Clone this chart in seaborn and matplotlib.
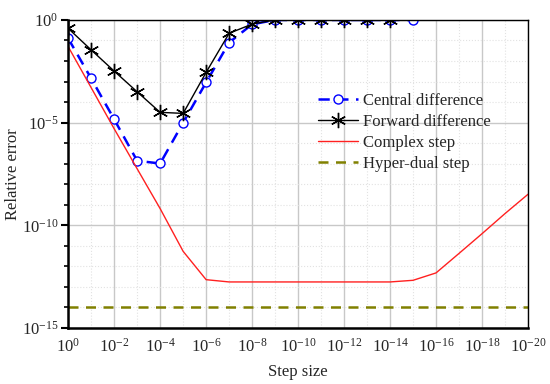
import numpy as np
import matplotlib
matplotlib.use("Agg")
import matplotlib.pyplot as plt
import matplotlib.ticker as mticker
import seaborn as sns

# step sizes (10^0 ... 10^-20)
step = [1e0, 1e-1, 1e-2, 1e-3, 1e-4, 1e-5, 1e-6, 1e-7, 1e-8, 1e-9, 1e-10,
        1e-11, 1e-12, 1e-13, 1e-14, 1e-15, 1e-16, 1e-17, 1e-18, 1e-19, 1e-20]

# log10 of relative error
central_log = [-0.9, -2.85, -4.84, -6.86, -6.99, -5.0, -3.04, -1.1, -0.21,
               0.0, 0.0, 0.0, 0.0, 0.0, 0.0, 0.0, 0.3]
forward_log = [-0.41, -1.46, -2.49, -3.5, -4.5, -4.55, -2.55, -0.65, -0.2,
               0.0, 0.0, 0.0, 0.0, 0.0, 0.0]
complex_log = [-1.3, -3.3, -5.3, -7.25, -9.19, -11.27, -12.65, -12.76, -12.76,
               -12.76, -12.76, -12.76, -12.76, -12.76, -12.76, -12.68, -12.32,
               -11.37, -10.41, -9.43, -8.49]
hyperdual_log = [-14.0] * 21

sns.set_theme(style="white")
plt.rcParams["font.family"] = ["Liberation Serif", "DejaVu Serif"]
plt.rcParams["mathtext.fontset"] = "stix"

fig, ax = plt.subplots(figsize=(5.5, 3.84), dpi=100)
fig.subplots_adjust(left=0.124, right=0.96, top=0.948, bottom=0.146)
ax.set_xscale("log")
ax.set_yscale("log")

sns.lineplot(x=step[:len(central_log)], y=10 ** np.array(central_log), ax=ax,
             color="#0000ff", lw=1.8, ls=(0, (4.5, 3)), marker="o", ms=6.5,
             mfc="white", mec="#0000ff", mew=1.0, sort=False, estimator=None,
             label="Central difference")
sns.lineplot(x=step[:len(forward_log)], y=10 ** np.array(forward_log), ax=ax,
             color="black", lw=1.0, marker=(6, 2, 0), ms=11, mew=1.0,
             mec="black", sort=False, estimator=None, label="Forward difference")
sns.lineplot(x=step, y=10 ** np.array(complex_log), ax=ax, color="#ff2020",
             lw=1.0, sort=False, estimator=None, label="Complex step")
sns.lineplot(x=step, y=10 ** np.array(hyperdual_log), ax=ax, color="#808000",
             lw=1.8, ls=(0, (4, 3)), sort=False, estimator=None,
             label="Hyper-dual step")

ax.set_xlim(1, 1e-20)
ax.set_ylim(1e-15, 1)

ax.xaxis.set_major_locator(mticker.FixedLocator([10.0 ** -k for k in range(0, 21, 2)]))
ax.xaxis.set_minor_locator(mticker.FixedLocator([10.0 ** -k for k in range(1, 21, 2)]))
ax.yaxis.set_major_locator(mticker.FixedLocator([1e-15, 1e-10, 1e-5, 1e0]))
ax.yaxis.set_minor_locator(mticker.FixedLocator([10.0 ** -k for k in range(16) if k % 5]))
ax.xaxis.set_major_formatter(mticker.LogFormatterSciNotation())
ax.yaxis.set_major_formatter(mticker.LogFormatterSciNotation())
ax.xaxis.set_minor_formatter(mticker.NullFormatter())
ax.yaxis.set_minor_formatter(mticker.NullFormatter())

ax.grid(True, which="major", color="#c8c8c8", lw=1.0, ls="-")
ax.grid(True, which="minor", color="#e2e2e2", lw=0.8, ls=":")
ax.set_axisbelow(True)

ax.tick_params(axis="y", which="major", direction="out", length=5, width=1.5,
               labelsize=12, color="black", left=True, pad=2)
ax.tick_params(axis="y", which="minor", direction="out", length=3, width=1.2,
               color="black", left=True)
ax.tick_params(axis="x", which="both", length=0, labelsize=12, pad=7)

for side in ["left", "bottom"]:
    ax.spines[side].set_linewidth(1.8)
    ax.spines[side].set_color("black")
for side in ["top", "right"]:
    ax.spines[side].set_linewidth(1.0)
    ax.spines[side].set_color("black")

ax.set_xlabel("Step size", fontsize=12, labelpad=6)
ax.set_ylabel("Relative error", fontsize=12, labelpad=1)

ax.legend(loc="upper left", bbox_to_anchor=(0.528, 0.785), frameon=False,
          fontsize=12, handlelength=2.4, handletextpad=0.3, labelspacing=0.3,
          borderaxespad=0)

plt.savefig("out.png", dpi=100)
